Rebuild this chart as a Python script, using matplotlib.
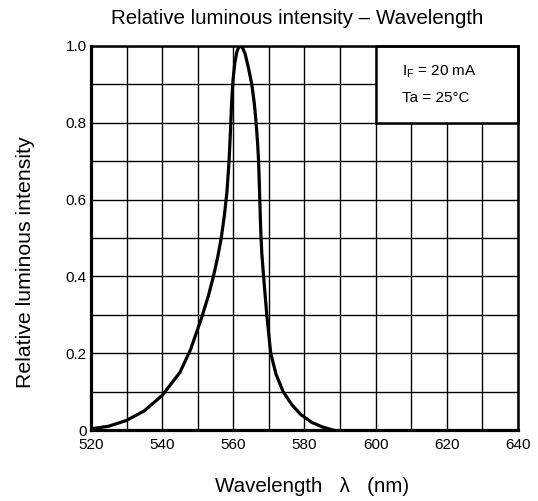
import matplotlib as mpl
mpl.use("Agg")
import matplotlib.pyplot as plt
from matplotlib.ticker import MultipleLocator, FuncFormatter
import matplotlib.patches as mpatch

mpl.rcParams.update({
    "font.family": "sans-serif",
    "font.sans-serif": ["Liberation Sans", "DejaVu Sans"],
})

# spectrum (wavelength nm, relative intensity)
wavelength = [520, 525, 530, 535, 540, 545, 548, 551, 553, 554.4, 555.6, 556.6, 557.5,
              558.2, 558.8, 559.2, 559.5, 559.9, 560.4, 561.0, 561.5, 562.0, 562.6, 563.3,
              564.2, 565.2, 565.9, 566.4, 566.8, 567.1, 567.3, 567.5, 567.7, 568.0, 568.5,
              569.4, 570.5, 572.0, 574.0, 576.5, 579.0, 582.0, 585.0, 588.0]
intensity = [0.003, 0.01, 0.025, 0.05, 0.09, 0.15, 0.21, 0.29, 0.35, 0.40, 0.45, 0.50, 0.56,
             0.62, 0.70, 0.78, 0.85, 0.91, 0.955, 0.985, 0.997, 1.0, 0.995, 0.98,
             0.945, 0.90, 0.85, 0.80, 0.75, 0.70, 0.64, 0.58, 0.52, 0.46, 0.40,
             0.30, 0.20, 0.145, 0.10, 0.065, 0.04, 0.02, 0.008, 0.0]

xmin, xmax = 520, 640
ymin, ymax = 0, 1.0
note_lines = ["I$_\\mathregular{F}$ = 20 mA", "Ta = 25°C"]

fig = plt.figure(figsize=(5.38, 5.01), dpi=100)
ax = fig.add_axes([91 / 538, 1 - 430 / 501, 427 / 538, 384 / 501])

ax.plot(wavelength, intensity, color="black", lw=2.3, zorder=4, solid_joinstyle="round")

ax.set_xlim(xmin, xmax); ax.set_ylim(ymin, ymax)
ax.xaxis.set_major_locator(MultipleLocator(20)); ax.xaxis.set_minor_locator(MultipleLocator(10))
ax.yaxis.set_major_locator(MultipleLocator(0.2)); ax.yaxis.set_minor_locator(MultipleLocator(0.1))
ax.yaxis.set_major_formatter(FuncFormatter(lambda v, p: "0" if abs(v) < 1e-9 else f"{v:.1f}"))
ax.grid(which="both", color="black", lw=1.0, zorder=1)
ax.set_axisbelow(True)
ax.tick_params(which="both", length=0, labelsize=11)
ax.tick_params(axis="x", pad=6)
ax.tick_params(axis="y", pad=3)
for s in ax.spines.values():
    s.set_linewidth(1.8); s.set_zorder(5)
ax.spines["left"].set_linewidth(2.3); ax.spines["bottom"].set_linewidth(2.3)

# condition box in upper right
ax.add_patch(mpatch.Rectangle((600, 0.8), 40, 0.2, facecolor="white", edgecolor="black",
                              lw=1.8, zorder=3, clip_on=False))
ax.text(607.5, 0.934, note_lines[0], fontsize=11, va="center", ha="left", zorder=6)
ax.text(607.5, 0.864, note_lines[1], fontsize=11, va="center", ha="left", zorder=6)

fig.text(0.552, 0.964, "Relative luminous intensity – Wavelength", ha="center", va="center", fontsize=14.8)
fig.text(0.58, 0.028, "Wavelength   λ   (nm)", ha="center", va="center", fontsize=14.8)
fig.text(0.047, 0.476, "Relative luminous intensity", ha="center", va="center", rotation=90, fontsize=15.3)

fig.savefig("out.png", dpi=100)
